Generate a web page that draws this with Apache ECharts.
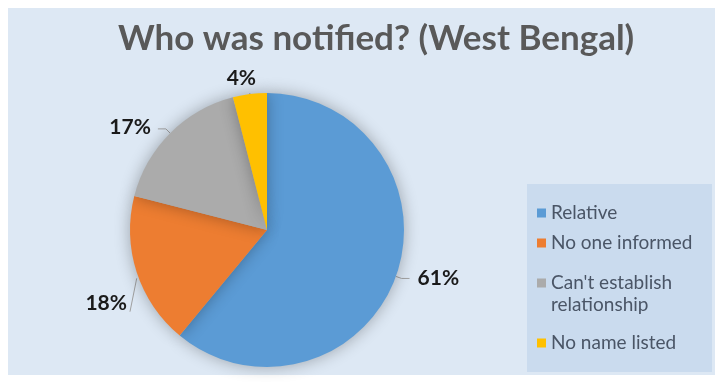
<!DOCTYPE html>
<html>
<head>
<meta charset="utf-8">
<script src="https://cdn.jsdelivr.net/npm/echarts@6/dist/echarts.min.js"></script>
<style>
html,body{margin:0;padding:0;background:#ffffff;}
#chart{width:720px;height:382px;}
</style>
</head>
<body>
<div id="chart"></div>
<script>
const titleText = 'Who was notified? (West Bengal)';
const categories = ['Relative', 'No one informed', "Can't establish relationship", 'No name listed'];
const legendLabels = ['Relative', 'No one informed', "\nCan't establish\nrelationship", 'No name listed'];
const values = [61, 18, 17, 4];
const colors = ['#5b9bd5', '#ed7d31', '#ababab', '#ffc000'];

const chart = echarts.init(document.getElementById('chart'), null, {renderer: 'canvas'});

const legendTops = [202, 232, 250, 332];
const legends = categories.map((c, i) => ({
  data: [c],
  orient: 'vertical',
  left: 537,
  top: legendTops[i],
  padding: 0,
  itemWidth: 9,
  itemHeight: 9,
  itemGap: 0,
  icon: 'rect',
  selectedMode: false,
  formatter: () => legendLabels[i],
  textStyle: {
    fontFamily: 'Lato',
    fontSize: 19,
    lineHeight: 22,
    color: '#4a5566'
  }
}));

// label nudges (pixels) to follow the reference's best-fit label placement
const labelShift = [[3, 0], [9, 29], [-2, -2], [20, -10]];

chart.setOption({
  backgroundColor: '#ffffff',
  color: colors,
  title: {
    text: titleText,
    left: 113,
    top: 16,
    textStyle: {fontFamily: 'Lato', fontWeight: 'bold', fontSize: 35, color: '#595959'}
  },
  graphic: [
    {type: 'rect', z: -10, shape: {x: 8, y: 8, width: 707, height: 367}, style: {fill: '#dde8f4'}, silent: true},
    {type: 'rect', z: -9, shape: {x: 527, y: 184, width: 185, height: 188}, style: {fill: '#cadbee'}, silent: true}
  ],
  legend: legends,
  series: [{
    type: 'pie',
    center: [267, 230],
    radius: 137,
    startAngle: 90,
    clockwise: true,
    animation: false,
    data: categories.map((c, i) => ({name: c, value: values[i]})),
    itemStyle: {shadowBlur: 16, shadowColor: 'rgba(0,0,0,0.3)'},
    label: {
      show: true,
      position: 'outside',
      formatter: '{c}%',
      fontFamily: 'Lato',
      fontWeight: 'bold',
      fontSize: 21,
      color: '#1a1a1a'
    },
    labelLine: {show: true, length: 6, length2: 8, lineStyle: {color: '#a0a0a0', width: 1}},
    labelLayout: function (p) {
      const i = p.dataIndex;
      const s = labelShift[i];
      const out = {dx: s[0], dy: s[1]};
      const pts = p.labelLinePoints;
      const r = p.labelRect;
      if (pts && i === 1) {
        const start = pts[0];
        out.labelLinePoints = [[start[0], start[1] + 6], [r.x + s[0] + r.width + 3, r.y + s[1] + r.height - 2]];
      } else if (pts && i === 3) {
        const start = pts[0];
        out.labelLinePoints = [start, [start[0], start[1] - 1]];
      }
      return out;
    }
  }]
});
</script>
</body>
</html>
